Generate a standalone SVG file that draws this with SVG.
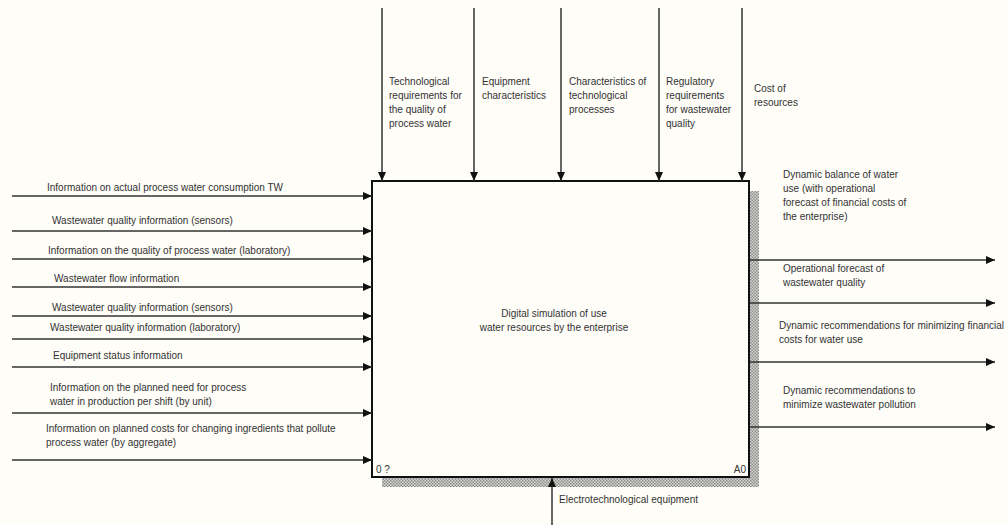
<svg xmlns="http://www.w3.org/2000/svg" width="1008" height="525" viewBox="0 0 1008 525">
<defs>
<marker id="arr" markerUnits="userSpaceOnUse" markerWidth="10" markerHeight="8" refX="9" refY="4" orient="auto">
<path d="M0,0 L9,4 L0,8 z" fill="#111"/>
</marker>
<pattern id="hatch" width="3" height="3" patternUnits="userSpaceOnUse">
<rect width="3" height="3" fill="#d8d8d4"/>
<rect width="1.5" height="1.5" fill="#8a8a8a"/>
<rect x="1.5" y="1.5" width="1.5" height="1.5" fill="#8a8a8a"/>
</pattern>
<style>
text{font-family:"Liberation Sans",Arial,sans-serif;font-size:10px;fill:#333}
.c{stroke:#333;stroke-width:1.5;fill:none;marker-end:url(#arr)}
.box{fill:#fefdf8;stroke:#111;stroke-width:2}
.sh{fill:url(#hatch)}
.m{text-anchor:middle}
.e{text-anchor:end}
</style>
</defs>
<rect width="1008" height="525" fill="#fefdf8"/>
<g id="node-A0">
<rect class="sh" x="749" y="191" width="10" height="296"/>
<rect class="sh" x="382" y="477" width="377" height="10"/>
<rect class="box" x="372" y="181" width="377" height="296"/>
<text class="m" x="554" y="317">Digital simulation of use</text>
<text class="m" x="554" y="331">water resources by the enterprise</text>
<text x="376" y="473">0 ?</text>
<text class="e" x="746" y="473">A0</text>
</g>
<g id="connectors">
<line class="c" x1="382" y1="8" x2="382" y2="181"/>
<line class="c" x1="474" y1="8" x2="474" y2="181"/>
<line class="c" x1="561" y1="8" x2="561" y2="181"/>
<line class="c" x1="659" y1="8" x2="659" y2="181"/>
<line class="c" x1="742" y1="8" x2="742" y2="181"/>
<line class="c" x1="12" y1="196" x2="372" y2="196"/>
<line class="c" x1="12" y1="231" x2="372" y2="231"/>
<line class="c" x1="12" y1="259" x2="372" y2="259"/>
<line class="c" x1="12" y1="287" x2="372" y2="287"/>
<line class="c" x1="12" y1="316" x2="372" y2="316"/>
<line class="c" x1="12" y1="339" x2="372" y2="339"/>
<line class="c" x1="12" y1="367" x2="372" y2="367"/>
<line class="c" x1="12" y1="413" x2="372" y2="413"/>
<line class="c" x1="12" y1="460" x2="372" y2="460"/>
<line class="c" x1="750" y1="260" x2="995" y2="260"/>
<line class="c" x1="750" y1="303" x2="995" y2="303"/>
<line class="c" x1="750" y1="362" x2="995" y2="362"/>
<line class="c" x1="750" y1="427" x2="995" y2="427"/>
<line class="c" x1="552" y1="525" x2="552" y2="478"/>
</g>
<g id="labels-controls">
<text x="389" y="85">Technological</text>
<text x="389" y="99">requirements for</text>
<text x="389" y="113">the quality of</text>
<text x="389" y="127">process water</text>
<text x="482" y="85">Equipment</text>
<text x="482" y="99">characteristics</text>
<text x="569" y="85">Characteristics of</text>
<text x="569" y="99">technological</text>
<text x="569" y="113">processes</text>
<text x="666" y="85">Regulatory</text>
<text x="666" y="99">requirements</text>
<text x="666" y="113">for wastewater</text>
<text x="666" y="127">quality</text>
<text x="754" y="92">Cost of</text>
<text x="754" y="106">resources</text>
</g>
<g id="labels-inputs">
<text x="47" y="190.5">Information on actual process water consumption TW</text>
<text x="52" y="223.5">Wastewater quality information (sensors)</text>
<text x="48" y="253.5">Information on the quality of process water (laboratory)</text>
<text x="54" y="281.5">Wastewater flow information</text>
<text x="52" y="310.5">Wastewater quality information (sensors)</text>
<text x="50" y="330.5">Wastewater quality information (laboratory)</text>
<text x="53" y="358.5">Equipment status information</text>
<text x="50" y="390.5">Information on the planned need for process</text>
<text x="50" y="404.5">water in production per shift (by unit)</text>
<text x="46" y="431.5">Information on planned costs for changing ingredients that pollute</text>
<text x="46" y="445.5">process water (by aggregate)</text>
</g>
<g id="labels-outputs">
<text x="783" y="178">Dynamic balance of water</text>
<text x="783" y="192">use (with operational</text>
<text x="783" y="206">forecast of financial costs of</text>
<text x="783" y="220">the enterprise)</text>
<text x="783" y="272">Operational forecast of</text>
<text x="783" y="286">wastewater quality</text>
<text x="779" y="329">Dynamic recommendations for minimizing financial</text>
<text x="779" y="343">costs for water use</text>
<text x="783" y="394">Dynamic recommendations to</text>
<text x="783" y="408">minimize wastewater pollution</text>
</g>
<g id="labels-mechanism">
<text x="559" y="503">Electrotechnological equipment</text>
</g>
</svg>
